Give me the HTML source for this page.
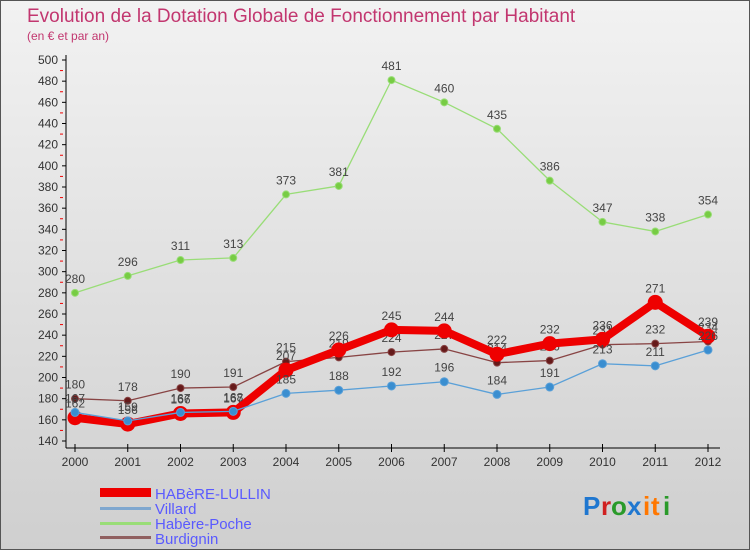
<!DOCTYPE html>
<html><head><meta charset="utf-8"><style>
body{margin:0;width:750px;height:550px;overflow:hidden;font-family:"Liberation Sans",sans-serif}
#bg{position:absolute;left:0;top:0;width:748px;height:548px;border:1px solid #555;background:linear-gradient(#f2f2f2,#cfcfcf)}
</style></head><body>
<div id="bg"></div>
<svg id="c" width="750" height="550" style="position:absolute;left:0;top:0">
<text x="27" y="22" font-size="19" fill="#c2366f">Evolution de la Dotation Globale de Fonctionnement par Habitant</text>
<text x="27" y="40" font-size="12" fill="#c2366f">(en € et par an)</text>
<g id="axes"></g><g id="series"></g>
<g font-size="15" fill="#5a5aff">
<rect x="100" y="488" width="51" height="9" fill="#ee0000"/>
<text x="155" y="499">HABèRE-LULLIN</text>
<rect x="100" y="507" width="51" height="3" fill="#7fa7cf"/>
<text x="155" y="514">Villard</text>
<rect x="100" y="522" width="51" height="3" fill="#99dd77"/>
<text x="155" y="529">Habère-Poche</text>
<rect x="100" y="536" width="51" height="3" fill="#906060"/>
<text x="155" y="544">Burdignin</text>
</g>
<g font-size="26" font-weight="bold">
<text x="583" y="515" fill="#1f77d0">P</text><text x="601" y="515" fill="#d02020">r</text><text x="611" y="515" fill="#2a9a2a">o</text><text x="627" y="515" fill="#1f77d0">x</text><text x="643" y="515" fill="#ff7700">i</text><text x="651" y="515" fill="#ff7700">t</text><text x="663" y="515" fill="#2a9a2a">i</text>
</g>
</svg>
<script>
const years=[2000,2001,2002,2003,2004,2005,2006,2007,2008,2009,2010,2011,2012];
const lullin=[162,156,166,167,207,226,245,244,222,232,236,271,239];
const villard=[167,159,167,168,185,188,192,196,184,191,213,211,226];
const poche=[280,296,311,313,373,381,481,460,435,386,347,338,354];
const burdignin=[180,178,190,191,215,219,224,227,214,216,231,232,234];
const yTicks=[140,160,180,200,220,240,260,280,300,320,340,360,380,400,420,440,460,480,500];
const NS="http://www.w3.org/2000/svg";
const xs=i=>75+i*52.75;
const ys=v=>60+(500-v)*381/360;
function mk(p,t,a){const e=document.createElementNS(NS,t);for(const k in a)e.setAttribute(k,a[k]);p.appendChild(e);return e;}
const ax=document.getElementById('axes');
let l=mk(ax,'line',{x1:66,y1:55,x2:66,y2:448,stroke:'#000'});


l=mk(ax,'line',{x1:66,y1:448,x2:720,y2:448,stroke:'#000'});


yTicks.forEach(v=>{
  mk(ax,'line',{x1:62,y1:ys(v),x2:66,y2:ys(v),stroke:'#000'});
  if(v<500) mk(ax,'line',{x1:60,y1:ys(v+10),x2:63,y2:ys(v+10),stroke:'#e00'});
  const t=mk(ax,'text',{x:58,y:ys(v)+4,'font-size':12,'text-anchor':'end',fill:'#333'});
  t.textContent=v;
  
  
});
years.forEach((y,i)=>{
  mk(ax,'line',{x1:xs(i),y1:444,x2:xs(i),y2:452,stroke:'#000'});
  const t=mk(ax,'text',{x:xs(i),y:466,'font-size':12,'text-anchor':'middle',fill:'#333'});
  t.textContent=y;
  
  
});
const sg=document.getElementById('series');
function series(name,data,col,pt,w,r){
  const g=mk(sg,'g',{});
  
  
  const pl=mk(g,'polyline',{points:data.map((v,i)=>xs(i)+','+ys(v)).join(' '),fill:'none',stroke:col,'stroke-width':w,'stroke-linejoin':'round'});
  
  
  data.forEach((v,i)=>{
    const c=mk(g,'circle',{cx:xs(i),cy:ys(v),r:r,fill:pt,stroke:col,'stroke-width':1});
    
    
    const t=mk(g,'text',{x:xs(i),y:ys(v)-10,'font-size':12,'text-anchor':'middle',fill:'#444'});
    t.textContent=v;
    
    
  });
}
series('habere-poche',poche,'#99dd77','#77cc44',1.3,3.5);
series('burdignin',burdignin,'#884444','#661a1a',1.3,3.5);
series('habere-lullin',lullin,'#ee0000','#ee0000',8,7);
series('villard',villard,'#5aa0d8','#3a8ed0',1.3,4);
</script>
</body></html>
